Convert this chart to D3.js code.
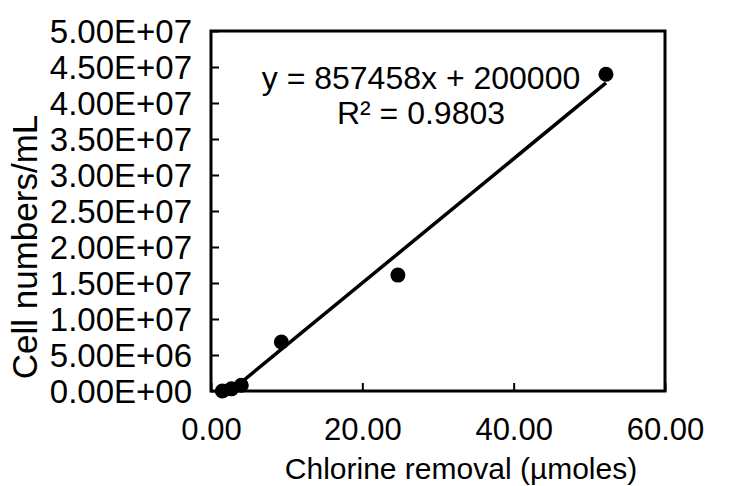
<!DOCTYPE html>
<html>
<head>
<meta charset="utf-8">
<script src="https://cdn.jsdelivr.net/npm/d3@7"></script>
<style>
  body { margin: 0; background: #fff; }
  text { font-family: "Liberation Sans", Arial, sans-serif; fill: #000; }
</style>
</head>
<body>
<script>
// values
var chlorine = [1.5, 2.7, 4.0, 9.3, 24.7, 52.2];
var cells = [0.0e6, 0.3e6, 0.8e6, 6.8e6, 16.1e6, 44.0e6];
var xTicks = [0, 20, 40, 60];
var yTicks = [0, 5e6, 1e7, 1.5e7, 2e7, 2.5e7, 3e7, 3.5e7, 4e7, 4.5e7, 5e7];
var equationText = "y = 857458x + 200000";
var rText = "R² = 0.9803";

var w = 742;
var h = 486;
var margin = { left: 211, right: 77, top: 31, bottom: 95 };

var svg = d3.select("body")
    .append("svg")
    .attr("width", w)
    .attr("height", h);

var x = d3.scaleLinear()
    .domain([0, 60])
    .range([margin.left, w - margin.right]);

var y = d3.scaleLinear()
    .domain([0, 5e7])
    .range([h - margin.bottom, margin.top]);

// y tick labels like excel 0.00E+00
function sci(v) {
    if (v == 0) return "0.00E+00";
    var e = Math.floor(Math.log10(v));
    var m = v / Math.pow(10, e);
    return m.toFixed(2) + "E+" + (e < 10 ? "0" + e : e);
}

var xAxis = d3.axisBottom(x)
    .tickValues(xTicks)
    .tickSize(-8)
    .tickPadding(27)
    .tickFormat(d3.format(".2f"));

var yAxis = d3.axisLeft(y)
    .tickValues(yTicks)
    .tickSize(-8)
    .tickPadding(19)
    .tickFormat(sci);

var gx = svg.append("g")
    .attr("transform", "translate(0," + (h - margin.bottom) + ")")
    .call(xAxis);

var gy = svg.append("g")
    .attr("transform", "translate(" + margin.left + ",0)")
    .call(yAxis);

[gx, gy].forEach(function (g) {
    g.select(".domain").remove();
    g.selectAll(".tick line").attr("stroke", "#000").attr("stroke-width", 2);
    g.selectAll(".tick text").attr("fill", "#000");
});
gx.selectAll(".tick text").style("font-size", "31px");
gy.selectAll(".tick text").style("font-size", "33px").attr("dy", "0.35em");

// plot frame
svg.append("rect")
    .attr("x", margin.left)
    .attr("y", margin.top)
    .attr("width", w - margin.left - margin.right)
    .attr("height", h - margin.top - margin.bottom)
    .attr("fill", "none")
    .attr("stroke", "#000")
    .attr("stroke-width", 3);

// linear trendline (least squares, like excel)
var mx = d3.mean(chlorine);
var my = d3.mean(cells);
var sxy = d3.sum(chlorine, function (d, i) { return (d - mx) * (cells[i] - my); });
var sxx = d3.sum(chlorine, function (d) { return (d - mx) * (d - mx); });
var slope = sxy / sxx;
var icpt = my - slope * mx;
var xs = d3.extent(chlorine);

svg.append("clipPath")
    .attr("id", "plotclip")
    .append("rect")
    .attr("x", margin.left)
    .attr("y", margin.top)
    .attr("width", w - margin.left - margin.right)
    .attr("height", h - margin.top - margin.bottom);

svg.append("line")
    .attr("clip-path", "url(#plotclip)")
    .attr("x1", x(xs[0]))
    .attr("y1", y(slope * xs[0] + icpt))
    .attr("x2", x(xs[1]))
    .attr("y2", y(slope * xs[1] + icpt))
    .attr("stroke", "#000")
    .attr("stroke-width", 3.5);

svg.selectAll("circle")
    .data(chlorine)
    .enter()
    .append("circle")
    .attr("cx", function (d) { return x(d); })
    .attr("cy", function (d, i) { return y(cells[i]); })
    .attr("r", 7.5)
    .attr("fill", "#000");

// equation
svg.append("text")
    .attr("x", 421)
    .attr("y", 89)
    .attr("text-anchor", "middle")
    .style("font-size", "32px")
    .text(equationText);

svg.append("text")
    .attr("x", 421)
    .attr("y", 124)
    .attr("text-anchor", "middle")
    .style("font-size", "32px")
    .text(rText);

// axis titles
svg.append("text")
    .attr("x", 461)
    .attr("y", 479)
    .attr("text-anchor", "middle")
    .style("font-size", "30px")
    .text("Chlorine removal (µmoles)");

svg.append("text")
    .attr("transform", "translate(37,247) rotate(-90)")
    .attr("text-anchor", "middle")
    .style("font-size", "35px")
    .text("Cell numbers/mL");
</script>
</body>
</html>
